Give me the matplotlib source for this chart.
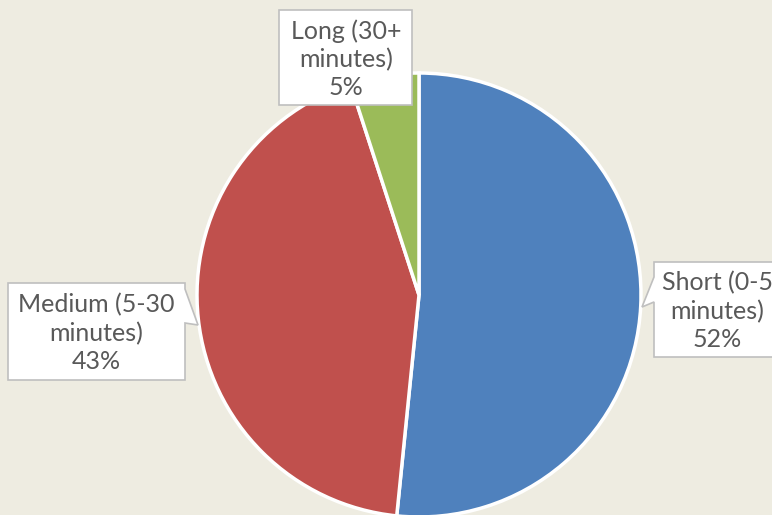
import matplotlib
matplotlib.use("Agg")
import matplotlib.pyplot as plt
from matplotlib.patches import Polygon

categories = ["Short (0-5\nminutes)", "Medium (5-30\nminutes)", "Long (30+\nminutes)"]
values = [51.6, 43.4, 5.0]
colors = ["#4F81BD", "#C0504D", "#9BBB59"]

W, H = 772, 515
BG = "#EEECE1"
TXT = "#595959"

fig = plt.figure(figsize=(W / 100, H / 100), dpi=100, facecolor=BG)
ax = fig.add_axes([0, 0, 1, 1])
ax.set_facecolor(BG)

def P(x, y):
    return (x, H - y)

cx, cy = P(419, 295)
wedges, _ = ax.pie(values, colors=colors, startangle=90, counterclock=False,
                   center=(cx, cy), radius=222,
                   wedgeprops=dict(edgecolor="white", linewidth=2.5))
ax.set_xlim(0, W)
ax.set_ylim(0, H)
ax.set_aspect("auto")
ax.axis("off")

total = sum(values)
labels = [f"{c}\n{round(v / total * 100)}%" for c, v in zip(categories, values)]

# callout shapes (pixel coordinates, y downward)
shapes = [
    [(654, 262), (790, 262), (790, 357), (654, 357), (654, 302), (642, 307), (654, 277)],
    [(8, 283), (185, 283), (185, 289), (198, 325), (185, 323), (185, 380), (8, 380)],
    [(279, 10), (412, 10), (412, 105), (279, 105)],
]
text_pos = [(717, 311), (96, 333), (346, 59)]

for shp, (tx, ty), lab in zip(shapes, text_pos, labels):
    poly = Polygon([P(x, y) for x, y in shp], closed=True, facecolor="white",
                   edgecolor="#BFBFBF", linewidth=1.2, zorder=5)
    ax.add_patch(poly)
    ax.text(*P(tx, ty), lab, ha="center", va="center", fontsize=18,
            color=TXT, family=["Lato", "DejaVu Sans"],
            linespacing=1.25, zorder=6)

fig.savefig("out.png", dpi=100, facecolor=BG)
